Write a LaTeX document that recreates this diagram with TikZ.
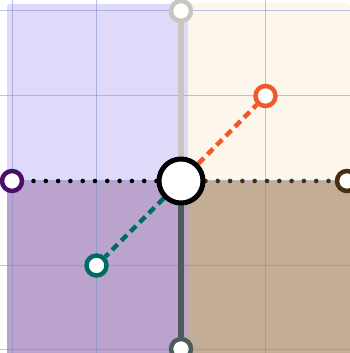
\documentclass[tikz,border=0pt]{standalone}
\usetikzlibrary{calc}
\pgfdeclarelayer{bg}
\pgfdeclarelayer{mid}
\pgfsetlayers{bg,mid,main}
\definecolor{tlfill}{RGB}{224,218,250}
\definecolor{trfill}{RGB}{253,246,236}
\definecolor{blfill}{RGB}{186,164,206}
\definecolor{brfill}{RGB}{196,173,150}
\definecolor{gridc}{RGB}{120,140,200}
\definecolor{ltgray}{RGB}{200,198,192}
\definecolor{slate}{RGB}{79,91,91}
\definecolor{dpurple}{RGB}{75,15,107}
\definecolor{dbrown}{RGB}{74,44,14}
\definecolor{orng}{RGB}{240,90,40}
\definecolor{teal2}{RGB}{0,107,99}
\tikzset{
  marker/.style={circle,draw=#1,fill=white,line width=4.5pt,minimum size=20pt,inner sep=0pt},
  hub/.style={circle,draw=black,fill=white,line width=5pt,minimum size=44pt,inner sep=0pt},
  quad/.style={fill=#1,draw=none,rounded corners=3pt},
  gridline/.style={draw=gridc,line width=1pt,opacity=0.5},
  solidlink/.style={draw=#1,line width=5.5pt},
  dotlink/.style={draw=#1,line width=4.6pt,line cap=round,dash pattern=on 0pt off 12.3pt},
  dashlink/.style={draw=#1,line width=4.5pt,dash pattern=on 8pt off 5pt}
}
\begin{document}
\begin{tikzpicture}[x=1pt,y=1pt]
\useasboundingbox (0,0) rectangle (350,353);
% nodes
\node[hub] (c) at (181,172) {};
\node[marker=ltgray] (top) at (181,342) {};
\node[marker=slate] (bot) at (181,4) {};
\node[marker=dpurple] (left) at (12,172) {};
\node[marker=dbrown] (right) at (347,172) {};
\node[marker=orng] (ne) at (265.5,257) {};
\node[marker=teal2] (sw) at (96.5,87.5) {};
\begin{pgfonlayer}{bg}
  \path[quad=trfill] (181,172) rectangle (350,350);
  \path[quad=brfill] (181,-5) rectangle (350,172);
  \path[quad=tlfill] (7,172) rectangle (188,349);
  \path[quad=blfill] (7,-5) rectangle (188,172);
  \foreach \gx in {12,96.5,181,265.5,350} {
    \draw[gridline] (\gx,0) -- (\gx,353);
  }
  \foreach \gy in {342,257.5,172,87.5,3} {
    \draw[gridline] (0,\gy) -- (350,\gy);
  }
\end{pgfonlayer}
\begin{pgfonlayer}{mid}
  \draw[solidlink=ltgray] (c.center) -- (top);
  \draw[solidlink=slate] (c.center) -- (bot);
  \draw[dotlink=black] (c) -- (left);
  \draw[dotlink=dbrown] (c) -- (right);
  \draw[dashlink=orng] (c) -- (ne);
  \draw[dashlink=teal2] (c) -- (sw);
\end{pgfonlayer}
\end{tikzpicture}
\end{document}
